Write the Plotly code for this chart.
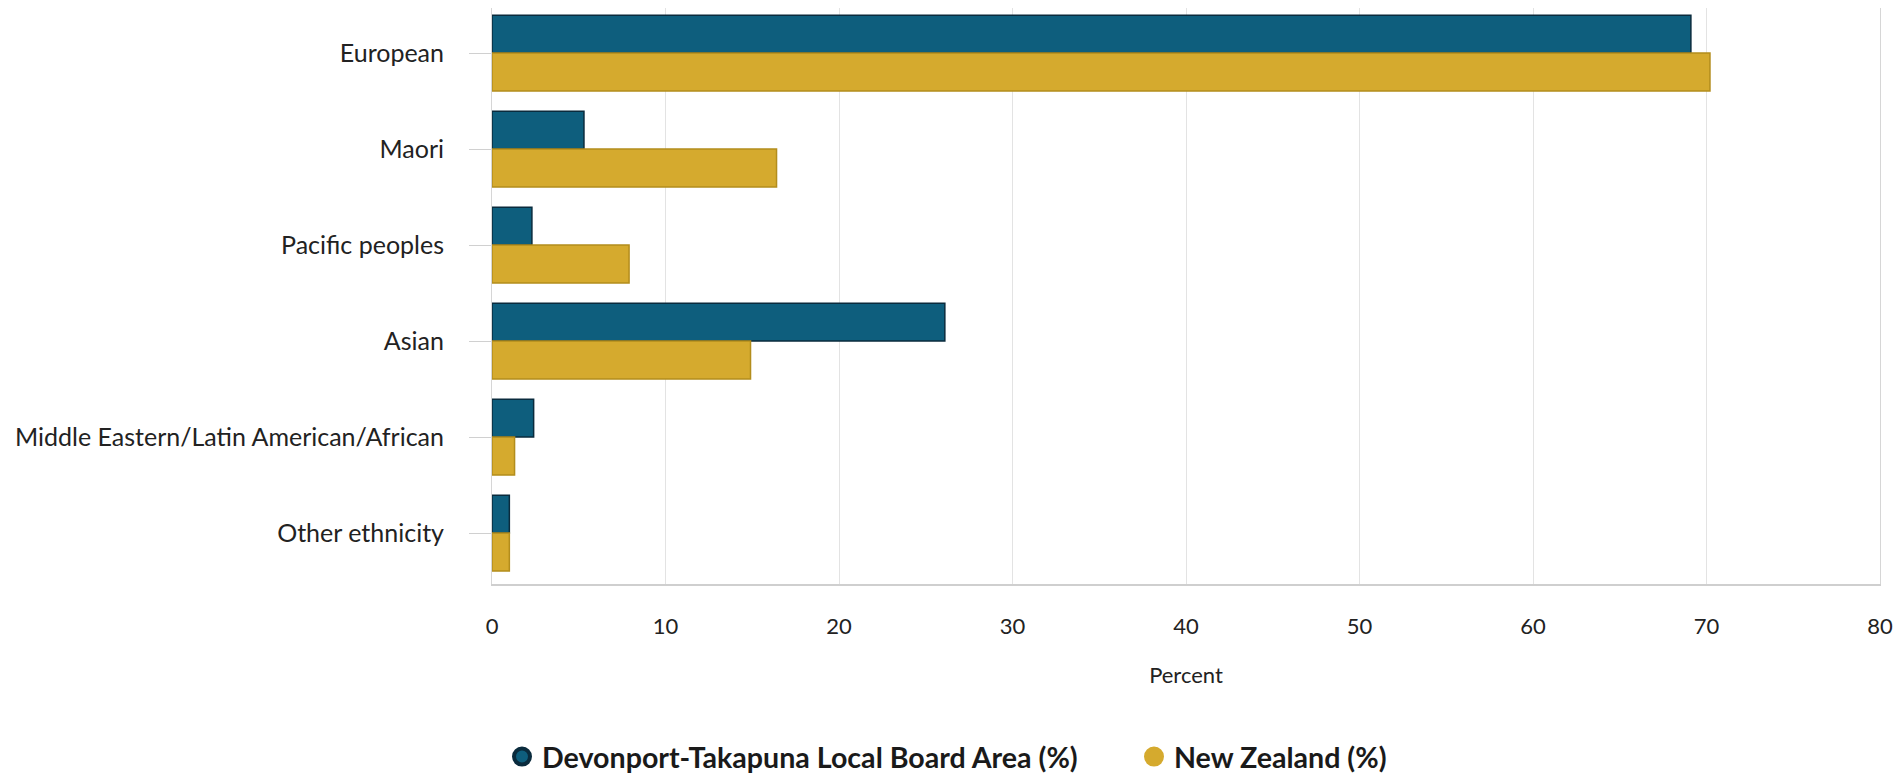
import plotly.graph_objects as go

categories = ["European", "Maori", "Pacific peoples", "Asian",
              "Middle Eastern/Latin American/African", "Other ethnicity"]
devonport = [69.1, 5.3, 2.3, 26.1, 2.4, 1.0]
new_zealand = [70.2, 16.4, 7.9, 14.9, 1.3, 1.0]
series_names = ["Devonport-Takapuna Local Board Area (%)", "New Zealand (%)"]
x_ticks = [0, 10, 20, 30, 40, 50, 60, 70, 80]

BLUE = "#0e5e7d"
BLUE_EDGE = "#0a2b3d"
GOLD = "#d5aa2e"
GOLD_EDGE = "#b38d1c"
FONT = "Lato"

# page body has an 8px default margin, so the figure is sized to fit inside it
W, H = 1885, 766

fig = go.Figure()
fig.add_trace(go.Bar(y=categories, x=devonport, orientation="h", name=series_names[0],
                     marker=dict(color=BLUE, line=dict(color=BLUE_EDGE, width=1.5)),
                     showlegend=False))
fig.add_trace(go.Bar(y=categories, x=new_zealand, orientation="h", name=series_names[1],
                     marker=dict(color=GOLD, line=dict(color=GOLD_EDGE, width=1.5)),
                     showlegend=False))
# legend entries with round markers
fig.add_trace(go.Scatter(x=[None], y=[None], mode="markers", name=series_names[0],
                         marker=dict(symbol="circle", size=16, color=BLUE,
                                     line=dict(color=BLUE_EDGE, width=4))))
fig.add_trace(go.Scatter(x=[None], y=[None], mode="markers", name=series_names[1],
                         marker=dict(symbol="circle", size=16, color=GOLD,
                                     line=dict(color=GOLD, width=4))))

fig.update_layout(
    width=W, height=H,
    margin=dict(l=484, r=13, t=0, b=190, autoexpand=False),
    paper_bgcolor="white", plot_bgcolor="white",
    barmode="group", bargap=0.21, bargroupgap=0,
    font=dict(family=FONT, color="#222222"),
    showlegend=True,
    legend=dict(orientation="h", xref="container", yref="container",
                x=494/W, xanchor="left", y=17/H, yanchor="middle",
                font=dict(family=FONT, size=28.6, color="#1a1a1a", weight="bold"),
                itemsizing="trace", entrywidth=587, traceorder="normal"),
    xaxis=dict(range=[0, 80], tickvals=x_ticks, showgrid=True, gridcolor="#e3e3e3",
               gridwidth=1, zeroline=False, showline=True, linecolor="#cfcfcf", linewidth=2,
               tickfont=dict(family=FONT, size=22, color="#222222"), ticklabelstandoff=22,
               title=dict(text="Percent", font=dict(family=FONT, size=22, color="#222222"),
                          standoff=29),
               automargin=False, fixedrange=True),
    yaxis=dict(type="category", categoryorder="array", categoryarray=categories,
               range=[5.53, -0.47], showgrid=False, zeroline=False,
               showline=True, linecolor="#d6d6d6", linewidth=1, mirror=True,
               ticks="outside", ticklen=22, tickcolor="#d0d0d0", tickwidth=1,
               tickfont=dict(family=FONT, size=25, color="#222222"), ticklabelstandoff=20,
               automargin=False, fixedrange=True),
)

fig.write_html("out.html")
